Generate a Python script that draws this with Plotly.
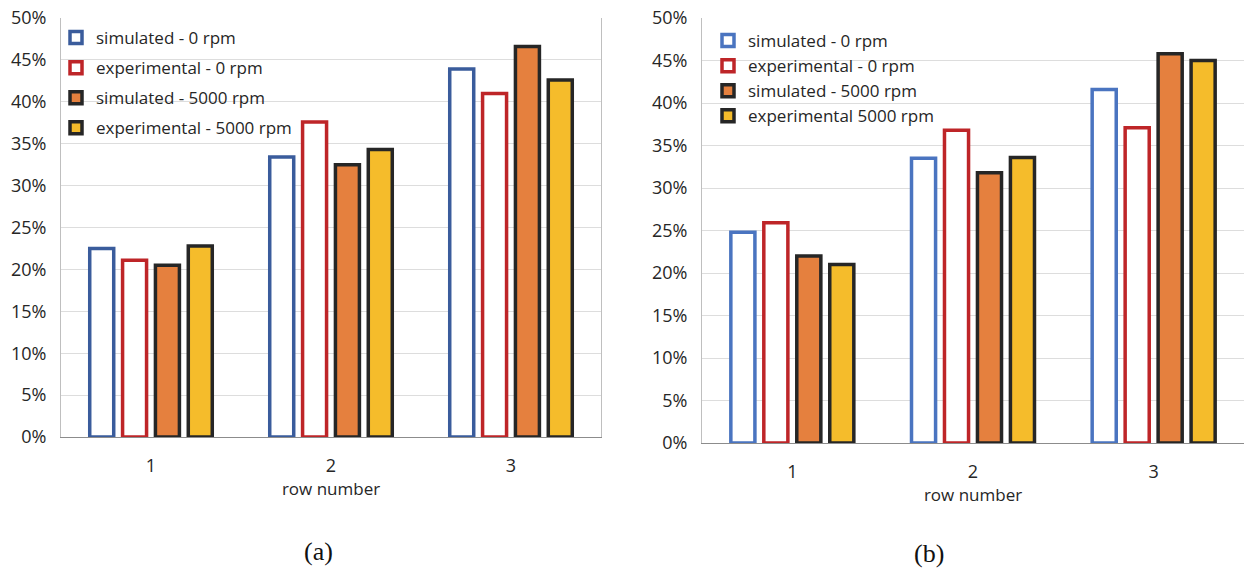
import plotly.graph_objects as go

# Row categories and share values (fraction) for the two panels
rows = ["1", "2", "3"]

series_names_a = ["simulated - 0 rpm", "experimental - 0 rpm",
                  "simulated - 5000 rpm", "experimental - 5000 rpm"]
series_names_b = ["simulated - 0 rpm", "experimental - 0 rpm",
                  "simulated - 5000 rpm", "experimental 5000 rpm"]

sim_0_a = [0.225, 0.334, 0.439]
exp_0_a = [0.211, 0.376, 0.410]
sim_5000_a = [0.205, 0.325, 0.466]
exp_5000_a = [0.228, 0.343, 0.426]

sim_0_b = [0.248, 0.335, 0.416]
exp_0_b = [0.259, 0.368, 0.371]
sim_5000_b = [0.220, 0.318, 0.458]
exp_5000_b = [0.210, 0.336, 0.450]

y_ticks = [0.0, 0.05, 0.10, 0.15, 0.20, 0.25, 0.30, 0.35, 0.40, 0.45, 0.50]

W, H = 1244, 571
FONT = "Open Sans"
TEXT = "#262626"

# (fill, outline) per series
styles_a = [("white", "#3A5C9C"), ("white", "#BE2528"),
            ("#E5803E", "#262626"), ("#F5BC2B", "#262626")]
styles_b = [("white", "#4A74C0"), ("white", "#BE2528"),
            ("#E5803E", "#262626"), ("#F5BC2B", "#262626")]

fig = go.Figure()


def add_panel(values, names, styles, xa, ya, legend):
    for i, (vals, name, (fill, edge)) in enumerate(zip(values, names, styles)):
        fig.add_trace(go.Bar(
            x=rows, y=vals, name=name, xaxis=xa, yaxis=ya,
            marker=dict(color=fill, line=dict(color=edge, width=3.5)),
            legend=legend, legendgroup=f"{legend}_{i}",
        ))


add_panel([sim_0_a, exp_0_a, sim_5000_a, exp_5000_a], series_names_a,
          styles_a, "x", "y", "legend")
add_panel([sim_0_b, exp_0_b, sim_5000_b, exp_5000_b], series_names_b,
          styles_b, "x2", "y2", "legend2")


# pixel-based panel placement
def xd(a, b):
    return [a / W, b / W]


def yd(bottom, top):
    return [(H - bottom) / H, (H - top) / H]


xa_common = dict(
    showgrid=False, showline=True, linecolor="#8C8C8C", linewidth=1,
    mirror=False, ticks="", ticklabelstandoff=12,
    tickfont=dict(family=FONT, size=18, color=TEXT),
    title_font=dict(family=FONT, size=17, color=TEXT),
    automargin=False, fixedrange=True,
)
ya_common = dict(
    range=[0, 0.5], tickvals=y_ticks, tickformat=".0%",
    showgrid=True, gridcolor="#DDDDDD", gridwidth=1,
    showline=True, linecolor="#BFBFBF", linewidth=1, mirror=True,
    ticks="", ticklabelstandoff=10,
    tickfont=dict(family=FONT, size=18, color=TEXT),
    zeroline=False, automargin=False, fixedrange=True,
)

fig.update_layout(
    width=W, height=H,
    margin=dict(l=0, r=0, t=0, b=0),
    paper_bgcolor="white", plot_bgcolor="white",
    barmode="group", bargap=0.27, bargroupgap=0.27,
    font=dict(family=FONT, color=TEXT),
    xaxis=dict(domain=xd(61, 601), title=dict(text="row number", standoff=4),
               anchor="y", **xa_common),
    yaxis=dict(domain=yd(437, 18), anchor="x", **ya_common),
    xaxis2=dict(domain=xd(702, 1244), title=dict(text="row number", standoff=4),
                anchor="y2", **xa_common),
    yaxis2=dict(domain=yd(443, 18), anchor="x2", **ya_common),
    legend=dict(
        x=56 / W, y=(H - 20) / H, xanchor="left", yanchor="top",
        bgcolor="rgba(0,0,0,0)", font=dict(family=FONT, size=17, color=TEXT),
        traceorder="grouped", tracegroupgap=5, itemwidth=30,
    ),
    legend2=dict(
        x=708 / W, y=(H - 23) / H, xanchor="left", yanchor="top",
        bgcolor="rgba(0,0,0,0)", font=dict(family=FONT, size=17, color=TEXT),
        traceorder="grouped", tracegroupgap=0, itemwidth=30,
    ),
    annotations=[
        dict(text="(a)", x=302 / W, y=(H - 551) / H, xref="paper", yref="paper",
             yanchor="middle", showarrow=False,
             font=dict(family="Liberation Serif", size=26, color="#111111")),
        dict(text="(b)", x=946 / W, y=(H - 553) / H, xref="paper", yref="paper",
             yanchor="middle", showarrow=False,
             font=dict(family="Liberation Serif", size=26, color="#111111")),
    ],
)

fig.write_html("out.html")
